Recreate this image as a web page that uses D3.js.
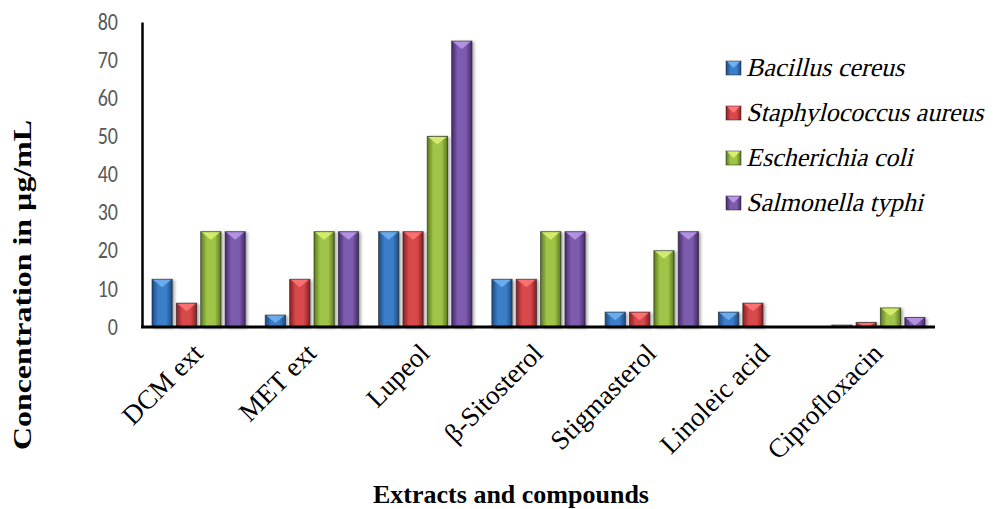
<!DOCTYPE html>
<html><head><meta charset="utf-8">
<script src="https://cdn.jsdelivr.net/npm/d3@7"></script>
<style>
html,body{margin:0;padding:0;background:#fff;}
svg{display:block;}
</style></head>
<body>
<svg id="chart" width="994" height="509"></svg>
<script>
const categories = ["DCM ext","MET ext","Lupeol","β-Sitosterol","Stigmasterol","Linoleic acid","Ciprofloxacin"];
const seriesNames = ["Bacillus cereus","Staphylococcus aureus","Escherichia coli","Salmonella typhi"];
const bacillusCereus = [12.5, 3.125, 25, 12.5, 3.9, 3.9, 0.5];
const staphAureus = [6.25, 12.5, 25, 12.5, 3.9, 6.25, 1.2];
const eColi = [25, 25, 50, 25, 20, 0, 5];
const salmonellaTyphi = [25, 25, 75, 25, 25, 0, 2.5];
const yTicks = [0,10,20,30,40,50,60,70,80];
const yTitle = "Concentration in µg/mL";
const xTitle = "Extracts and compounds";

const seriesValues = [bacillusCereus, staphAureus, eColi, salmonellaTyphi];
const palettes = [
  {edge:"#1d4a82", mid:"#3b7fc9", top:"#6fb0f0"},
  {edge:"#8a1f22", mid:"#d8494b", top:"#ff7676"},
  {edge:"#5a7a1c", mid:"#a0c448", top:"#d8f070"},
  {edge:"#45296c", mid:"#7d5cae", top:"#b898e6"}
];
const serif = "'Liberation Serif','Times New Roman','DejaVu Serif',serif";

const svg = d3.select("#chart");
const defs = svg.append("defs");
palettes.forEach((p,i)=>{
  const g = defs.append("linearGradient").attr("id","grad"+i).attr("x1","0").attr("x2","1").attr("y1","0").attr("y2","0");
  g.append("stop").attr("offset","0%").attr("stop-color",p.edge);
  g.append("stop").attr("offset","30%").attr("stop-color",p.mid);
  g.append("stop").attr("offset","70%").attr("stop-color",p.mid);
  g.append("stop").attr("offset","100%").attr("stop-color",p.edge);
});
const f = defs.append("filter").attr("id","shadow").attr("x","-20%").attr("y","-20%").attr("width","160%").attr("height","160%");
f.append("feDropShadow").attr("dx",2).attr("dy",1).attr("stdDeviation",1.5).attr("flood-color","#000").attr("flood-opacity",0.35);

const x0 = d3.scaleBand().domain(categories).range([142, 935]).padding(0);
const x1 = d3.scaleBand().domain(d3.range(seriesNames.length)).range([10, x0.bandwidth()-10]).paddingInner(0.17);
const y = d3.scaleLinear().domain([0,80]).range([327, 22]);

// bars
const groups = svg.append("g").selectAll("g").data(categories).join("g")
  .attr("transform", d => `translate(${x0(d)},0)`);
groups.each(function(cat, ci){
  const g = d3.select(this);
  seriesValues.forEach((vals, si)=>{
    const v = vals[ci];
    if (!(v > 0)) return;
    const bx = x1(si), bw = x1.bandwidth();
    const top = y(v), h = y(0) - top;
    const bar = g.append("g").attr("filter","url(#shadow)");
    bar.append("rect").attr("x",bx).attr("y",top).attr("width",bw).attr("height",h)
      .attr("fill",`url(#grad${si})`).attr("stroke","#1a1a1a").attr("stroke-opacity",0.6).attr("stroke-width",1);
    const th = Math.min(8, h);
    bar.append("path")
      .attr("d", `M${bx+1},${top+0.5} L${bx+bw-1},${top+0.5} L${bx+bw/2},${top+th} Z`)
      .attr("fill", palettes[si].top).attr("opacity",0.9);
  });
});

// axes
const yAxis = svg.append("g").attr("transform","translate(142,0)")
  .call(d3.axisLeft(y).tickValues(yTicks).tickSize(0).tickPadding(24));
yAxis.select(".domain").attr("stroke","#000").attr("stroke-width",2.5);
yAxis.selectAll("text").attr("font-family","Carlito, Lato, sans-serif").attr("font-size",20)
  .attr("fill","#595959").attr("transform","scale(1,1.2)").attr("dy","0.3em");

svg.append("line").attr("x1",141).attr("x2",935).attr("y1",y(0)).attr("y2",y(0))
  .attr("stroke","#000").attr("stroke-width",3);

// category labels
svg.append("g").selectAll("text").data(categories).join("text")
  .attr("transform", d => `translate(${x0(d)+x0.bandwidth()/2+6},${355}) rotate(-45)`)
  .attr("text-anchor","end")
  .attr("font-family",serif)
  .attr("font-size",27)
  .attr("fill","#000")
  .text(d=>d);

// titles
svg.append("text").attr("x",511).attr("y",503).attr("text-anchor","middle")
  .attr("font-family",serif).attr("font-weight","bold")
  .attr("font-size",26).text(xTitle);
svg.append("text").attr("transform","translate(31,285) rotate(-90)").attr("text-anchor","middle")
  .attr("font-family",serif).attr("font-weight","bold")
  .attr("font-size",25).attr("textLength",330).attr("lengthAdjust","spacingAndGlyphs").text(yTitle);

// legend
const legend = svg.append("g").attr("transform","translate(726,68)");
seriesNames.forEach((name,i)=>{
  const lg = legend.append("g").attr("transform",`translate(0,${i*45})`);
  lg.append("rect").attr("x",0).attr("y",-7).attr("width",15).attr("height",14)
    .attr("fill",`url(#grad${i})`).attr("stroke","#222").attr("stroke-opacity",0.5);
  lg.append("path").attr("d","M1,-6.5 L14,-6.5 L7.5,0 Z").attr("fill",palettes[i].top);
  lg.append("text").attr("transform","translate(20,8) skewX(-14)")
    .attr("font-family",serif)
    .attr("font-size",26).text(name);
});
</script>
</body></html>
